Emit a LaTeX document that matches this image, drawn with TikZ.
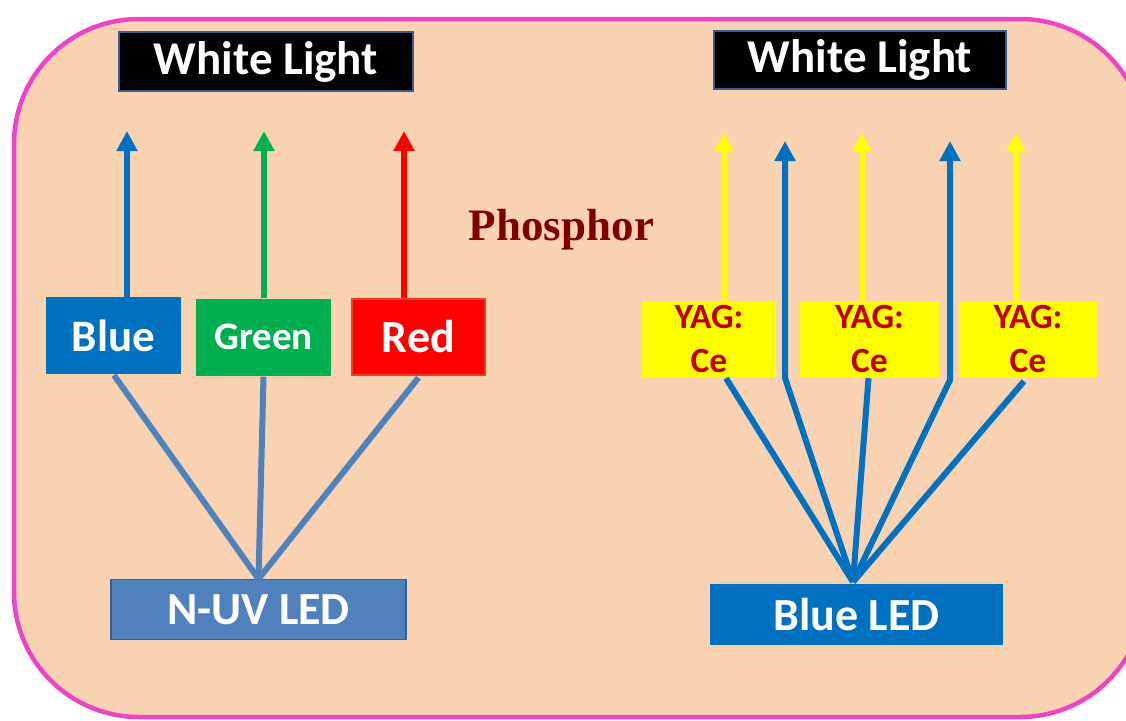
\documentclass[tikz,border=0pt]{standalone}
\usepackage{fontspec}
\setmainfont{Carlito}
\newfontfamily\phosfont{Liberation Serif}
\usetikzlibrary{arrows.meta}
\definecolor{peach}{HTML}{F9D3B1}
\definecolor{pinkline}{HTML}{EC44C4}
\definecolor{boxblue}{HTML}{0070C0}
\definecolor{boxgreen}{HTML}{00B050}
\definecolor{boxred}{HTML}{FF0000}
\definecolor{redborder}{HTML}{E8401C}
\definecolor{steel}{HTML}{4F81BD}
\definecolor{steeldark}{HTML}{385D8A}
\definecolor{yagyellow}{HTML}{FFFF00}
\definecolor{yagtext}{HTML}{C00000}
\definecolor{phoscol}{HTML}{800000}
\tikzset{
  lbl/.style={font=\bfseries\fontsize{46}{48}\selectfont, text=white, inner sep=0pt},
  wlbox/.style={lbl, font=\bfseries\fontsize{47}{49}\selectfont, fill=black, draw=steeldark, line width=1.2pt, minimum width=294pt, minimum height=59pt},
  colbox/.style={lbl, minimum width=135pt, minimum height=77pt},
  ledbox/.style={lbl, minimum width=295pt, minimum height=60pt},
  yagbox/.style={fill=yagyellow, inner sep=0pt, minimum width=136pt, minimum height=76pt,
    font=\bfseries\fontsize{35.5}{44}\selectfont, text=yagtext, align=center},
  ray/.style={line width=6pt},
  uparrow/.style={line width=6pt, -{Triangle[width=20pt,length=20pt]}},
  yarrow/.style={line width=5pt, draw=yagyellow, -{Triangle[width=18pt,length=18pt]}},
}
\begin{document}
\begin{tikzpicture}[x=1pt,y=-1pt]
\useasboundingbox (0,0) rectangle (1126,720);
\clip (0,0) rectangle (1126,720);
\fill[white] (0,0) rectangle (1126,720);
\draw[pinkline, line width=4.5pt, fill=peach, rounded corners=125pt] (14,19) rectangle (1145,717);

% left side
\node[wlbox] (wl1) at (266,61.5) {White Light};
\node[colbox, fill=boxblue, font=\bfseries\fontsize{45}{47}\selectfont] (blue) at (113.5,335.5) {Blue};
\node[colbox, fill=boxgreen, font=\bfseries\fontsize{39}{41}\selectfont] (green) at (263.5,337) {Green};
\node[colbox, fill=boxred, draw=redborder, line width=1.2pt, minimum width=133pt, minimum height=76pt] (red) at (418.5,337) {Red};
\node[ledbox, fill=steel, draw=steeldark, line width=1.2pt] (nuv) at (258.5,609.5) {N-UV LED};

\coordinate (tb) at (127,131);
\coordinate (tg) at (264,131);
\coordinate (tr) at (404,131);
\draw[uparrow, boxblue] (blue.north -| tb) -- (tb);
\draw[uparrow, boxgreen] (green.north -| tg) -- (tg);
\draw[uparrow, boxred] (red.north -| tr) -- (tr);

\draw[ray, steel] (nuv.north) -- ([xshift=0.5pt,yshift=-1pt]blue.south);
\draw[ray, steel] (nuv.north) -- ([yshift=-1pt]green.south);
\draw[ray, steel] (nuv.north) -- ([yshift=-2pt]red.south);

% phosphor label
\node[font=\phosfont\bfseries\fontsize{45}{48}\selectfont, text=phoscol, inner sep=0pt, anchor=base] (phos) at (561.5,240) {Phosphor};

% right side
\node[wlbox, minimum width=292pt, minimum height=58pt] (wl2) at (860,60) {White Light};
\node[yagbox, minimum width=134pt] (yag1) at (709,339) {YAG:\\Ce};
\node[yagbox, minimum width=139pt] (yag2) at (869.5,339) {YAG:\\Ce};
\node[yagbox, minimum width=138pt] (yag3) at (1028,339) {YAG:\\Ce};
\node[ledbox, fill=boxblue, minimum width=293pt, minimum height=61pt] (bled) at (856.5,614.5) {Blue LED};

\coordinate (ty1) at (724,133);
\coordinate (ty2) at (862,133);
\coordinate (ty3) at (1016,133);
\draw[yarrow] (yag1.north -| ty1) -- (ty1);
\draw[yarrow] (yag2.north -| ty2) -- (ty2);
\draw[yarrow] (yag3.north -| ty3) -- (ty3);

\coordinate (conv) at (853,582);
\coordinate (kb1) at (785,378);
\coordinate (kb2) at (950,380);
\coordinate (tb1) at (785,141);
\coordinate (tb2) at (950,141);
\draw[ray, boxblue] (conv) -- ([xshift=17pt,yshift=-1pt]yag1.south);
\draw[ray, boxblue] (conv) -- ([xshift=-1pt,yshift=-1pt]yag2.south);
\draw[ray, boxblue] (conv) -- ([xshift=-4pt,yshift=-4pt]yag3.south);
\draw[uparrow, boxblue, line join=round] (conv) -- (kb1) -- (tb1);
\draw[uparrow, boxblue, line join=round] (conv) -- (kb2) -- (tb2);
\end{tikzpicture}
\end{document}
